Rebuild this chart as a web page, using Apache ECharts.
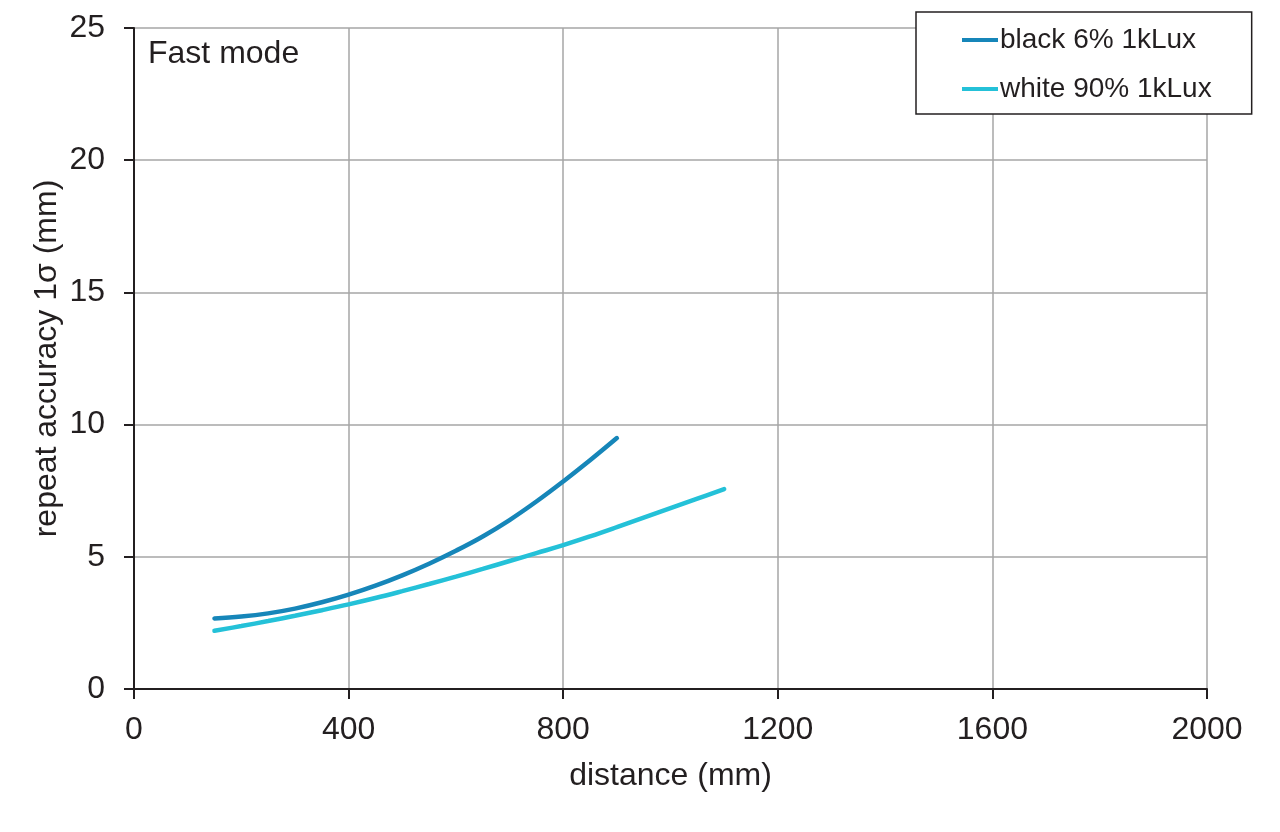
<!DOCTYPE html>
<html>
<head>
<meta charset="utf-8">
<script src="https://cdn.jsdelivr.net/npm/echarts@6/dist/echarts.min.js"></script>
<style>
html,body{margin:0;padding:0;background:#fff;}
#chart{width:1280px;height:832px;}
</style>
</head>
<body>
<div id="chart"></div>
<script>
const xTicks = [0, 400, 800, 1200, 1600, 2000];
const yTicks = [0, 5, 10, 15, 20, 25];
const blackX = [150, 200, 250, 300, 350, 400, 450, 500, 550, 600, 650, 700, 750, 800, 850, 900];
const blackY = [2.67, 2.74, 2.86, 3.04, 3.28, 3.57, 3.91, 4.30, 4.74, 5.23, 5.77, 6.39, 7.09, 7.85, 8.65, 9.49];
const whiteX = [150, 200, 250, 300, 350, 400, 450, 500, 550, 600, 650, 700, 750, 800, 850, 900, 950, 1000, 1050, 1100];
const whiteY = [2.20, 2.38, 2.57, 2.77, 2.98, 3.20, 3.44, 3.70, 3.97, 4.25, 4.54, 4.84, 5.14, 5.44, 5.77, 6.12, 6.48, 6.84, 7.20, 7.56];
const seriesNames = ['black 6% 1kLux', 'white 90% 1kLux'];
const colors = ['#1686b9', '#24c1d8'];

const chart = echarts.init(document.getElementById('chart'));
const font = "'Liberation Sans', Arial, Helvetica, sans-serif";
const ink = '#231f20';
chart.setOption({
  animation: false,
  backgroundColor: '#fff',
  grid: {left: 134, right: 73, top: 28, bottom: 143, containLabel: false},
  xAxis: {
    type: 'value', min: xTicks[0], max: xTicks[xTicks.length - 1], interval: 400,
    name: 'distance (mm)', nameLocation: 'middle', nameGap: 71, nameMoveOverlap: false,
    nameTextStyle: {fontFamily: font, fontSize: 32, color: ink},
    axisLine: {show: true, lineStyle: {color: ink, width: 2}},
    axisTick: {show: true, length: 10, lineStyle: {color: ink, width: 2}},
    axisLabel: {fontFamily: font, fontSize: 32, color: ink, margin: 25, formatter: v => String(v)},
    splitLine: {show: true, lineStyle: {color: '#a6a6a6', width: 1.5}}
  },
  yAxis: {
    type: 'value', min: yTicks[0], max: yTicks[yTicks.length - 1], interval: 5,
    name: 'repeat accuracy 1σ (mm)', nameLocation: 'middle', nameGap: 71, nameMoveOverlap: false,
    nameTextStyle: {fontFamily: font, fontSize: 32, color: ink},
    axisLine: {show: true, lineStyle: {color: ink, width: 2}},
    axisTick: {show: true, length: 10, lineStyle: {color: ink, width: 2}},
    axisLabel: {fontFamily: font, fontSize: 32, color: ink, margin: 29, formatter: v => String(v)},
    splitLine: {show: true, lineStyle: {color: '#a6a6a6', width: 1.5}}
  },
  legend: {
    orient: 'vertical', left: 916, top: 12,
    backgroundColor: '#fff',
    borderColor: ink, borderWidth: 1.5, borderRadius: 0,
    padding: [14, 40, 11, 46],
    itemGap: 21, itemWidth: 36, itemHeight: 4,
    icon: 'rect',
    textStyle: {fontFamily: font, fontSize: 28, color: ink, padding: [0, 0, 0, -3]},
    data: seriesNames
  },
  graphic: [{
    type: 'text', left: 148, top: 38,
    style: {text: 'Fast mode', fontFamily: font, fontSize: 32, fill: ink}
  }],
  series: [
    {
      name: seriesNames[0], type: 'line', smooth: 0.4, showSymbol: false,
      color: colors[0],
      lineStyle: {width: 4.5, color: colors[0], cap: 'round'},
      data: blackX.map((x, i) => [x, blackY[i]])
    },
    {
      name: seriesNames[1], type: 'line', smooth: 0.4, showSymbol: false,
      color: colors[1],
      lineStyle: {width: 4.5, color: colors[1], cap: 'round'},
      data: whiteX.map((x, i) => [x, whiteY[i]])
    }
  ]
});
</script>
</body>
</html>
